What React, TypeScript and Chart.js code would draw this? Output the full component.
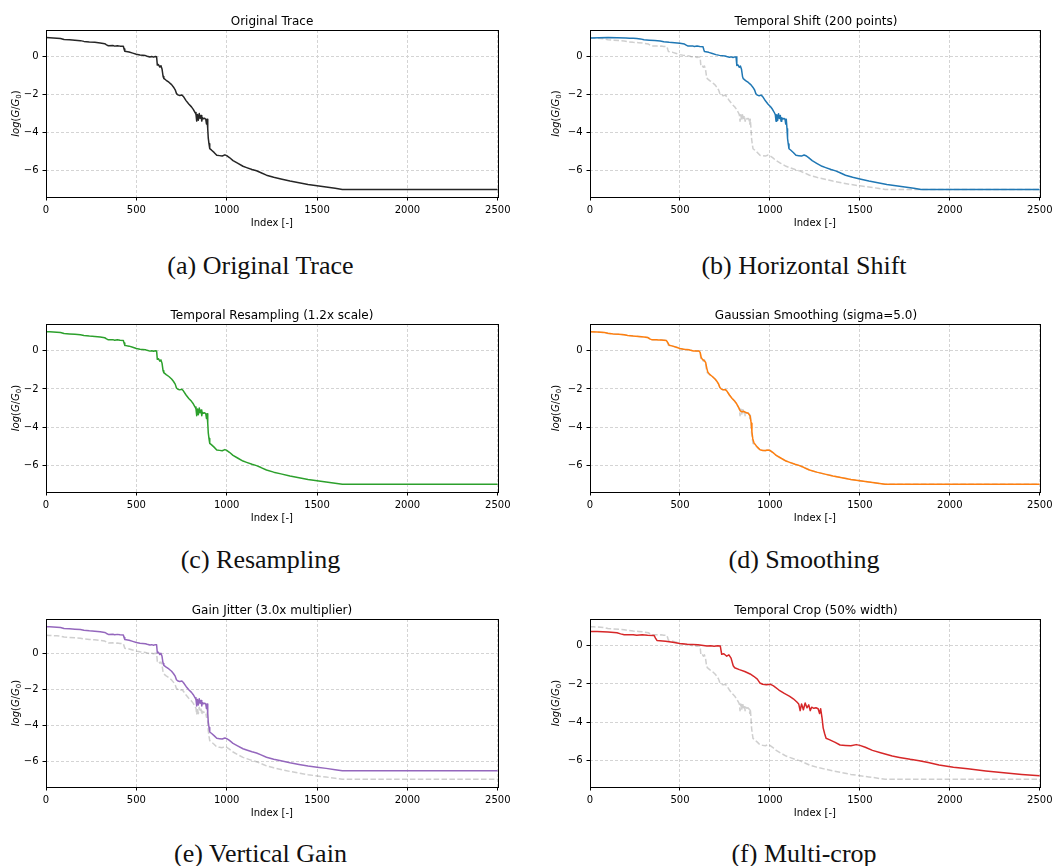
import React, { useEffect, useRef } from "react";
import { Chart, registerables } from "chart.js";

Chart.register(...registerables);
Chart.defaults.font.family = '"DejaVu Sans", sans-serif';
Chart.defaults.color = "#000";

// ---- Trace data: index [-] and log(G/G0) ----

const traceIndex = [
  0, 20, 40, 60, 80, 100, 130, 160, 190, 210, 240, 270, 300, 325, 335, 345, 370, 380, 395, 410,
  428, 432, 436, 460, 480, 500, 520, 550, 560, 575, 585, 595, 605, 612, 616, 622, 630, 636, 642, 648,
  652, 665, 680, 695, 705, 715, 722, 730, 740, 752, 760, 775, 790, 805, 815, 825, 830, 834, 838, 843,
  848, 853, 858, 862, 866, 872, 878, 884, 888, 891, 895, 898, 902, 906, 915, 930, 945, 960, 975, 990,
  1000, 1015, 1035, 1060, 1090, 1110, 1140, 1165, 1190, 1220, 1260, 1300, 1350, 1400, 1450, 1500, 1550, 1600, 1640, 2500,
];
const traceValue = [
  1.0, 0.99, 0.98, 0.97, 0.95, 0.9, 0.88, 0.86, 0.84, 0.8, 0.77, 0.75, 0.72, 0.68, 0.62, 0.57, 0.58, 0.55, 0.57, 0.55,
  0.54, 0.4, 0.28, 0.24, 0.18, 0.12, 0.08, 0.05, 0.02, -0.02, 0.0, -0.03, 0.0, -0.01, -0.45, -0.42, -0.55, -0.48, -0.65, -1.05,
  -1.15, -1.25, -1.35, -1.48, -1.6, -1.75, -1.95, -2.02, -2.05, -2.02, -2.1, -2.32, -2.5, -2.65, -2.78, -2.95, -3.05, -3.4, -3.05, -3.35,
  -3.0, -3.25, -3.1, -3.4, -3.22, -3.28, -3.25, -3.3, -3.55, -3.3, -3.8, -4.3, -4.6, -4.85, -4.92, -5.05, -5.2, -5.22, -5.24, -5.18,
  -5.22, -5.32, -5.48, -5.62, -5.78, -5.85, -5.95, -6.02, -6.12, -6.25, -6.36, -6.45, -6.56, -6.65, -6.74, -6.81, -6.87, -6.94, -7.0, -7.0,
];

const shiftedIndex = [
  0, 100, 200, 220, 240, 260, 280, 300, 330, 360, 390, 410, 440, 470, 500, 525, 535, 545, 570, 580, 595, 610,
  628, 632, 636, 660, 680, 700, 720, 750, 760, 775, 785, 795, 805, 812, 816, 822, 830, 836, 842, 848,
  852, 865, 880, 895, 905, 915, 922, 930, 940, 952, 960, 975, 990, 1005, 1015, 1025, 1030, 1034, 1038, 1043,
  1048, 1053, 1058, 1062, 1066, 1072, 1078, 1084, 1088, 1091, 1095, 1098, 1102, 1106, 1115, 1130, 1145, 1160, 1175, 1190,
  1200, 1215, 1235, 1260, 1290, 1310, 1340, 1365, 1390, 1420, 1460, 1500, 1550, 1600, 1650, 1700, 1750, 1800, 1840, 2500,
];
const shiftedValue = [
  1.0, 1.02, 1.0, 0.99, 0.98, 0.97, 0.95, 0.9, 0.88, 0.86, 0.84, 0.8, 0.77, 0.75, 0.72, 0.68, 0.62, 0.57, 0.58, 0.55, 0.57, 0.55,
  0.54, 0.4, 0.28, 0.24, 0.18, 0.12, 0.08, 0.05, 0.02, -0.02, 0.0, -0.03, 0.0, -0.01, -0.45, -0.42, -0.55, -0.48, -0.65, -1.05,
  -1.15, -1.25, -1.35, -1.48, -1.6, -1.75, -1.95, -2.02, -2.05, -2.02, -2.1, -2.32, -2.5, -2.65, -2.78, -2.95, -3.05, -3.4, -3.05, -3.35,
  -3.0, -3.25, -3.1, -3.4, -3.22, -3.28, -3.25, -3.3, -3.55, -3.3, -3.8, -4.3, -4.6, -4.85, -4.92, -5.05, -5.2, -5.22, -5.24, -5.18,
  -5.22, -5.32, -5.48, -5.62, -5.78, -5.85, -5.95, -6.02, -6.12, -6.25, -6.36, -6.45, -6.56, -6.65, -6.74, -6.81, -6.87, -6.94, -7.0, -7.0,
];

const smoothedIndex = [
  0, 40, 80, 100, 130, 160, 190, 210, 240, 270, 300, 322, 332, 345, 370, 380, 395, 410, 425, 432,
  440, 460, 480, 500, 520, 550, 560, 575, 585, 595, 605, 612, 618, 625, 635, 643, 650, 655, 665, 680,
  695, 705, 715, 722, 730, 740, 752, 760, 775, 790, 805, 815, 825, 835, 845, 855, 865, 880, 890, 896,
  900, 905, 912, 920, 930, 945, 960, 975, 990, 1000, 1015, 1035, 1060, 1090, 1110, 1140, 1165, 1190, 1220, 1260,
  1300, 1350, 1400, 1450, 1500, 1550, 1600, 1640, 2500,
];
const smoothedValue = [
  0.99, 0.98, 0.95, 0.91, 0.88, 0.86, 0.84, 0.8, 0.77, 0.75, 0.72, 0.69, 0.62, 0.57, 0.57, 0.56, 0.56, 0.55, 0.53, 0.42,
  0.29, 0.24, 0.18, 0.12, 0.08, 0.05, 0.02, -0.01, -0.01, -0.02, -0.01, -0.08, -0.35, -0.45, -0.52, -0.62, -0.95, -1.12, -1.24, -1.35,
  -1.48, -1.6, -1.75, -1.93, -2.01, -2.04, -2.04, -2.1, -2.32, -2.5, -2.65, -2.78, -2.95, -3.15, -3.2, -3.17, -3.24, -3.28, -3.42, -3.8,
  -4.25, -4.62, -4.84, -4.93, -5.05, -5.19, -5.23, -5.23, -5.2, -5.22, -5.32, -5.48, -5.62, -5.78, -5.85, -5.95, -6.02, -6.12, -6.25, -6.36,
  -6.45, -6.56, -6.65, -6.74, -6.81, -6.87, -6.94, -7.0, -7.0,
];

const gainValue = [
  1.48, 1.47, 1.46, 1.45, 1.43, 1.38, 1.36, 1.34, 1.32, 1.28, 1.25, 1.23, 1.2, 1.16, 1.1, 1.05, 1.06, 1.03, 1.05, 1.03,
  1.02, 0.88, 0.76, 0.72, 0.66, 0.6, 0.56, 0.53, 0.5, 0.46, 0.48, 0.45, 0.48, 0.47, 0.03, 0.06, -0.07, 0.0, -0.17, -0.57,
  -0.67, -0.77, -0.87, -1.0, -1.12, -1.27, -1.47, -1.54, -1.57, -1.54, -1.62, -1.84, -2.02, -2.17, -2.3, -2.47, -2.57, -2.92, -2.57, -2.87,
  -2.52, -2.77, -2.62, -2.92, -2.74, -2.8, -2.77, -2.82, -3.07, -2.82, -3.32, -3.82, -4.12, -4.37, -4.44, -4.57, -4.72, -4.74, -4.76, -4.7,
  -4.74, -4.84, -5.0, -5.14, -5.3, -5.37, -5.47, -5.54, -5.64, -5.77, -5.88, -5.97, -6.08, -6.17, -6.26, -6.33, -6.39, -6.46, -6.52, -6.52,
];

const cropIndex = [
  0, 40, 100, 150, 170, 190, 240, 260, 290, 320, 356, 364, 372, 420, 460, 500, 540, 600, 620, 650,
  670, 690, 710, 724, 732, 744, 760, 772, 784, 796, 804, 830, 860, 890, 910, 930, 944, 960, 980, 1004,
  1020, 1050, 1080, 1110, 1130, 1150, 1160, 1168, 1176, 1186, 1196, 1206, 1216, 1224, 1232, 1244, 1256, 1268, 1276, 1282,
  1290, 1296, 1304, 1312, 1330, 1360, 1390, 1420, 1450, 1480, 1500, 1530, 1570, 1620, 1680, 1720, 1780, 1830, 1880, 1940,
  2020, 2100, 2200, 2300, 2400, 2500,
];
const cropValue = [
  0.75, 0.75, 0.72, 0.68, 0.62, 0.57, 0.58, 0.55, 0.57, 0.55, 0.54, 0.4, 0.28, 0.24, 0.18, 0.12, 0.08, 0.05, 0.02, -0.02,
  0.0, -0.03, 0.0, -0.01, -0.45, -0.42, -0.55, -0.48, -0.65, -1.05, -1.15, -1.25, -1.35, -1.48, -1.6, -1.75, -1.95, -2.02, -2.05, -2.02,
  -2.1, -2.32, -2.5, -2.65, -2.78, -2.95, -3.05, -3.4, -3.05, -3.35, -3.0, -3.25, -3.1, -3.4, -3.22, -3.28, -3.25, -3.3, -3.55, -3.3,
  -3.8, -4.3, -4.6, -4.85, -4.92, -5.05, -5.2, -5.22, -5.24, -5.18, -5.22, -5.32, -5.48, -5.62, -5.78, -5.85, -5.95, -6.02, -6.12, -6.25,
  -6.36, -6.45, -6.56, -6.65, -6.74, -6.81,
];

const xTicks = [0, 500, 1000, 1500, 2000, 2500];
const yTicks = [-6, -4, -2, 0];

// ---- Styling / layout ----

const FONT = '"DejaVu Sans", sans-serif';
const GRID_COLOR = "#d4d4d4";
const REF_COLOR = "rgba(140,140,140,0.42)";

type Series = { index: number[]; value: number[]; color: string; dashed?: boolean };

type PanelSpec = {
  title: string;
  caption: string;
  col: number;
  row: number;
  yMin: number;
  yMax: number;
  series: Series[];
};

const reference: Series = { index: traceIndex, value: traceValue, color: REF_COLOR, dashed: true };

const PANELS: PanelSpec[] = [
  {
    title: "Original Trace", caption: "(a) Original Trace", col: 0, row: 0, yMin: -7.4, yMax: 1.4,
    series: [{ index: traceIndex, value: traceValue, color: "#262626" }],
  },
  {
    title: "Temporal Shift (200 points)", caption: "(b) Horizontal Shift", col: 1, row: 0, yMin: -7.4, yMax: 1.42,
    series: [reference, { index: shiftedIndex, value: shiftedValue, color: "#1f77b4" }],
  },
  {
    title: "Temporal Resampling (1.2x scale)", caption: "(c) Resampling", col: 0, row: 1, yMin: -7.4, yMax: 1.4,
    series: [{ index: traceIndex, value: traceValue, color: "#2ca02c" }],
  },
  {
    title: "Gaussian Smoothing (sigma=5.0)", caption: "(d) Smoothing", col: 1, row: 1, yMin: -7.4, yMax: 1.4,
    series: [reference, { index: smoothedIndex, value: smoothedValue, color: "#ff7f0e" }],
  },
  {
    title: "Gain Jitter (3.0x multiplier)", caption: "(e) Vertical Gain", col: 0, row: 2, yMin: -7.424, yMax: 1.904,
    series: [reference, { index: traceIndex, value: gainValue, color: "#9467bd" }],
  },
  {
    title: "Temporal Crop (50% width)", caption: "(f) Multi-crop", col: 1, row: 2, yMin: -7.4, yMax: 1.4,
    series: [reference, { index: cropIndex, value: cropValue, color: "#d62728" }],
  },
];

const COLUMNS = [
  { left: 0, width: 514, padRight: 16, plotCenter: 272, captionCenter: 260.5, labelGap: 30.6 },
  { left: 544, width: 512, padRight: 14, plotCenter: 816, captionCenter: 804, labelGap: 34.6 },
];
const PAD_TOP = 10;
const Y_AXIS_W = 46;
const X_AXIS_H = 34;
const ROWS = [
  { plotTop: 30, plotHeight: 167, titleTop: 13.8, captionTop: 252.5 },
  { plotTop: 324, plotHeight: 168, titleTop: 308, captionTop: 547 },
  { plotTop: 619, plotHeight: 168, titleTop: 603, captionTop: 841.4 },
];

const fmtTick = (v: number) => (v < 0 ? "\u2212" + Math.abs(v) : String(v));

// Closed black frame around the plotting area (all four spines).
const framePlugin = {
  id: "frame",
  afterDatasetsDraw(chart: any) {
    const { ctx, chartArea: a } = chart;
    ctx.save();
    ctx.strokeStyle = "#000";
    ctx.lineWidth = 1;
    ctx.setLineDash([]);
    const l = Math.round(a.left) + 0.5;
    const t = Math.round(a.top) + 0.5;
    const r = Math.round(a.right) + 0.5;
    const b = Math.round(a.bottom) + 0.5;
    ctx.strokeRect(l, t, r - l, b - t);
    ctx.restore();
  },
};

// Axis labels: "Index [-]" and the rotated log(G/G0) with a subscript.
const axisLabelPlugin = {
  id: "axisLabels",
  afterDraw(chart: any, _args: any, opts: any) {
    const { ctx, chartArea: a } = chart;
    ctx.save();
    ctx.fillStyle = "#000";
    ctx.font = `10px ${FONT}`;
    ctx.textAlign = "center";
    ctx.textBaseline = "middle";
    ctx.fillText("Index [-]", (a.left + a.right) / 2, a.bottom + 26.8);

    const parts = [
      { t: "log", f: `italic 10px ${FONT}`, dy: 0 },
      { t: "(", f: `10px ${FONT}`, dy: 0 },
      { t: "G", f: `italic 10px ${FONT}`, dy: 0 },
      { t: "/", f: `10px ${FONT}`, dy: 0 },
      { t: "G", f: `italic 10px ${FONT}`, dy: 0 },
      { t: "0", f: `7px ${FONT}`, dy: 1.8 },
      { t: ")", f: `10px ${FONT}`, dy: 0 },
    ];
    let total = 0;
    const widths = parts.map((p) => {
      ctx.font = p.f;
      const w = ctx.measureText(p.t).width;
      total += w;
      return w;
    });
    ctx.translate(a.left - opts.gap, (a.top + a.bottom) / 2);
    ctx.rotate(-Math.PI / 2);
    ctx.textAlign = "left";
    ctx.textBaseline = "alphabetic";
    let x = -total / 2;
    parts.forEach((p, i) => {
      ctx.font = p.f;
      ctx.fillText(p.t, x, 3.6 + p.dy);
      x += widths[i];
    });
    ctx.restore();
  },
};

function gridOptions() {
  return {
    color: GRID_COLOR,
    lineWidth: 1,
    drawTicks: true,
    tickLength: 3.5,
    tickColor: "#000",
    tickWidth: 1,
    tickBorderDash: [],
  };
}

function Panel({ spec }: { spec: PanelSpec }) {
  const ref = useRef<HTMLCanvasElement>(null);
  const col = COLUMNS[spec.col];
  const row = ROWS[spec.row];
  const width = col.width;
  const height = PAD_TOP + row.plotHeight + X_AXIS_H;
  const top = row.plotTop - PAD_TOP;

  useEffect(() => {
    if (!ref.current) return;
    const datasets = spec.series.map((s) => ({
      data: s.index.map((x, k) => ({ x, y: s.value[k] })),
      borderColor: s.color,
      borderWidth: 1.5,
      borderDash: s.dashed ? [5.5, 2.4] : [],
      borderJoinStyle: "round" as const,
      pointRadius: 0,
      tension: 0,
      fill: false,
      order: s.dashed ? 2 : 1,
    }));
    const chart = new Chart(ref.current, {
      type: "line",
      data: { datasets },
      plugins: [framePlugin, axisLabelPlugin],
      options: {
        animation: false,
        responsive: false,
        devicePixelRatio: 1,
        events: [],
        layout: { padding: { top: PAD_TOP, right: col.padRight, left: 0, bottom: 0 } },
        plugins: {
          legend: { display: false },
          title: { display: false },
          tooltip: { enabled: false },
          axisLabels: { gap: col.labelGap },
        } as any,
        scales: {
          x: {
            type: "linear",
            min: 0,
            max: 2500,
            afterBuildTicks: (s: any) => {
              s.ticks = xTicks.map((v) => ({ value: v }));
            },
            afterFit: (s: any) => {
              s.height = X_AXIS_H;
            },
            border: { display: false, dash: [3, 2] },
            grid: gridOptions(),
            ticks: {
              font: { size: 10, family: FONT },
              color: "#000",
              padding: 3.5,
              maxRotation: 0,
              autoSkip: false,
              callback: (v: any) => fmtTick(Number(v)),
            },
          },
          y: {
            type: "linear",
            min: spec.yMin,
            max: spec.yMax,
            afterBuildTicks: (s: any) => {
              s.ticks = yTicks.map((v) => ({ value: v }));
            },
            afterFit: (s: any) => {
              s.width = Y_AXIS_W;
            },
            border: { display: false, dash: [3, 2] },
            grid: gridOptions(),
            ticks: {
              font: { size: 10, family: FONT },
              color: "#000",
              padding: 4,
              autoSkip: false,
              callback: (v: any) => fmtTick(Number(v)),
            },
          },
        },
      } as any,
    });
    return () => chart.destroy();
  }, []);

  return (
    <canvas
      ref={ref}
      width={width}
      height={height}
      style={{ position: "absolute", left: col.left, top, width, height }}
    />
  );
}

export default function App() {
  return (
    <div
      style={{
        position: "absolute",
        left: 0,
        top: 0,
        width: 1056,
        height: 866,
        background: "#fff",
        overflow: "hidden",
      }}
    >
      {PANELS.map((p) => {
        const col = COLUMNS[p.col];
        const row = ROWS[p.row];
        return (
          <React.Fragment key={p.caption}>
            <Panel spec={p} />
            <div
              style={{
                position: "absolute",
                left: col.plotCenter - 250,
                width: 500,
                top: row.titleTop,
                textAlign: "center",
                font: `12px ${FONT}`,
                lineHeight: "14px",
                color: "#000",
                whiteSpace: "nowrap",
              }}
            >
              {p.title}
            </div>
            <div
              style={{
                position: "absolute",
                left: col.captionCenter - 250,
                width: 500,
                top: row.captionTop,
                textAlign: "center",
                fontFamily: '"Liberation Serif", serif',
                fontSize: 26,
                lineHeight: "26px",
                color: "#111",
                whiteSpace: "nowrap",
              }}
            >
              {p.caption}
            </div>
          </React.Fragment>
        );
      })}
    </div>
  );
}
